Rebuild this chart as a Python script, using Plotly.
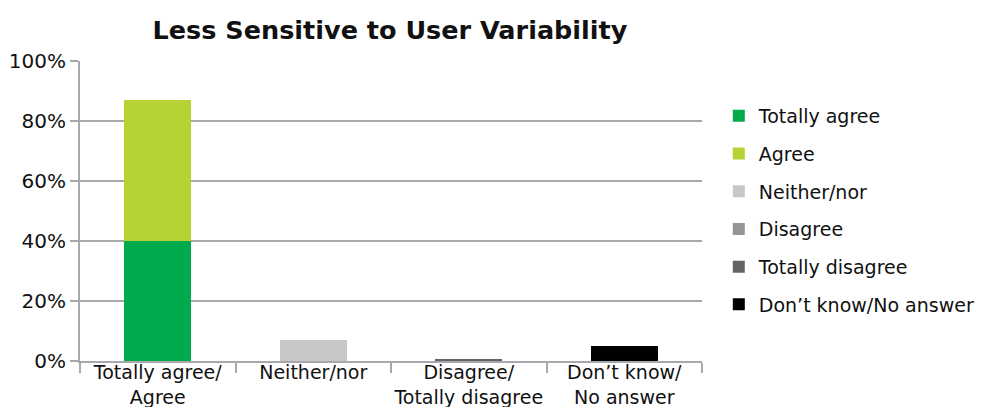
import plotly.graph_objects as go

categories = ["Totally agree/<br>Agree", "Neither/nor", "Disagree/<br>Totally disagree", "Don’t know/<br>No answer"]
series_names = ["Totally agree", "Agree", "Neither/nor", "Disagree", "Totally disagree", "Don’t know/No answer"]
totally_agree = [40, None, None, None]
agree = [47, None, None, None]
neither_nor = [None, 7, None, None]
disagree = [None, None, 0.2, None]
totally_disagree = [None, None, 0.5, None]
dont_know = [None, None, None, 5]
colors = ["#00ab4e", "#b5d334", "#c7c8ca", "#939598", "#636466", "#000000"]
tick_vals = [0, 20, 40, 60, 80, 100]
tick_text = ["0%", "20%", "40%", "60%", "80%", "100%"]

series = [totally_agree, agree, neither_nor, disagree, totally_disagree, dont_know]

fig = go.Figure()
for name, vals, col in zip(series_names, series, colors):
    fig.add_trace(go.Bar(x=categories, y=vals, name=name, marker=dict(color=col, line=dict(width=0)),
                         width=0.43, legendgroup=name))

# page has an 8px body margin, so the figure is sized/offset to compensate
fig.update_layout(
    barmode="stack",
    width=982, height=399,
    margin=dict(l=72, r=288, t=53, b=46, autoexpand=False),
    paper_bgcolor="white", plot_bgcolor="white",
    font=dict(family="DejaVu Sans, sans-serif", size=19, color="#111111"),
    title=dict(text="<b>Less Sensitive to User Variability</b>", x=0.389, xanchor="center",
               y=0.945, yanchor="middle", font=dict(size=25.5, color="#111111")),
    legend=dict(x=1.027, xanchor="left", y=0.88, yanchor="top", traceorder="grouped",
                tracegroupgap=10, font=dict(size=19), itemwidth=30),
    xaxis=dict(tickson="boundaries", ticks="outside", ticklen=10, tickcolor="#a7a9ac", tickwidth=2,
               showline=True, linecolor="#a7a9ac", linewidth=2, showgrid=False, automargin=False,
               tickfont=dict(size=19), tickangle=0, ticklabelstandoff=-7, fixedrange=True),
    yaxis=dict(range=[0, 100], tickvals=tick_vals, ticktext=tick_text, ticks="outside", ticklen=8,
               tickcolor="#a7a9ac", tickwidth=2, showline=True, linecolor="#a7a9ac", linewidth=2,
               showgrid=True, gridcolor="#a7a9ac", gridwidth=2, zeroline=False, automargin=False,
               tickfont=dict(size=20)),
)
fig.write_html("out.html")
